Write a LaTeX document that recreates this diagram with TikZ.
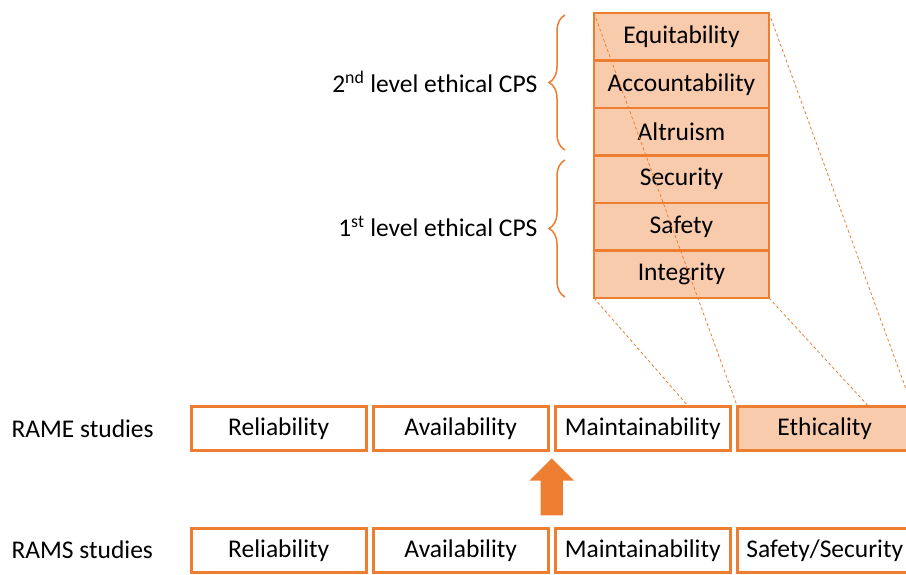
\documentclass[tikz,border=0pt]{standalone}
\usepackage{fontspec}
\setmainfont{Carlito}
\usetikzlibrary{positioning, calc, shapes.arrows, decorations.pathreplacing}
\definecolor{rorange}{HTML}{ED7D31}
\definecolor{rpeach}{HTML}{F8CBAD}

\begin{document}
\begin{tikzpicture}[x=1pt, y=1pt,
        every node/.style={font=\fontsize{25.5}{30}\selectfont},
        cell/.style={draw=rorange, line width=2.8pt, minimum width=175pt, minimum height=44.5pt, inner sep=0pt, outer sep=0pt},
        ecell/.style={cell, fill=rpeach, minimum height=47.5pt},
        guide/.style={draw=rorange, line width=0.8pt, dash pattern=on 3pt off 2.5pt},
        curly/.style={draw=rorange, line width=1.5pt, decorate, decoration={brace, amplitude=16pt}}]
        \useasboundingbox (0,0) rectangle (906,574);

        % ethical stack
        \node[ecell] (Nequ) at (681.5,537.25) {Equitability};
        \node[ecell, below=0 of Nequ] (Nacc) {Accountability};
        \node[ecell, below=0 of Nacc] (Nalt) {Altruism};
        \node[ecell, below=0 of Nalt] (Nsec) {Security};
        \node[ecell, below=0 of Nsec] (Nsaf) {Safety};
        \node[ecell, below=0 of Nsaf] (Nint) {Integrity};

        \coordinate (B2b) at (565,424);
        \coordinate (B2t) at (565,559);
        \coordinate (B1b) at (565,277);
        \coordinate (B1t) at (565,414);
        \draw[curly] (B2b) -- (B2t);
        \draw[curly] (B1b) -- (B1t);
        \node[anchor=east] (Nlvl2) at (541,492) {2\textsuperscript{nd} level ethical CPS};
        \node[anchor=east] (Nlvl1) at (541,348) {1\textsuperscript{st} level ethical CPS};

        % RAME row
        \node[anchor=west] (Nrame) at (8,145.5) {RAME studies};
        \node[cell] (Nrel1) at (278.75,145.5) {Reliability};
        \node[cell, right=7pt of Nrel1] (Nava1) {Availability};
        \node[cell, right=7pt of Nava1] (Nmai1) {Maintainability};
        \node[cell, fill=rpeach, right=7pt of Nmai1] (Neth) {Ethicality};

        % RAMS row
        \node[anchor=west] (Nrams) at (8,24.5) {RAMS studies};
        \node[cell] (Nrel2) at (278.75,23.5) {Reliability};
        \node[cell, right=7pt of Nrel2] (Nava2) {Availability};
        \node[cell, right=7pt of Nava2] (Nmai2) {Maintainability};
        \node[cell, right=7pt of Nmai2] (Nsas) {Safety/Security};

        \node[single arrow, fill=rorange, rotate=90, minimum height=57pt,
            single arrow head extend=11pt, single arrow head indent=0pt, inner xsep=0pt, inner ysep=11pt]
            (Nup) at ($(Nava1.south east)!0.5!(Nmai2.north west)+(0,-3)$) {};

        % zoom lines
        \draw[guide] (Nequ.north west) -- (Neth.north west);
        \draw[guide] (Nequ.north east) -- (Neth.north east);
        \draw[guide] (Nint.south west) -- ($(Nmai1.north west)!0.76!(Nmai1.north east)$);
        \draw[guide] (Nint.south east) -- ($(Neth.north west)!0.75!(Neth.north east)$);
    \end{tikzpicture}
\end{document}
